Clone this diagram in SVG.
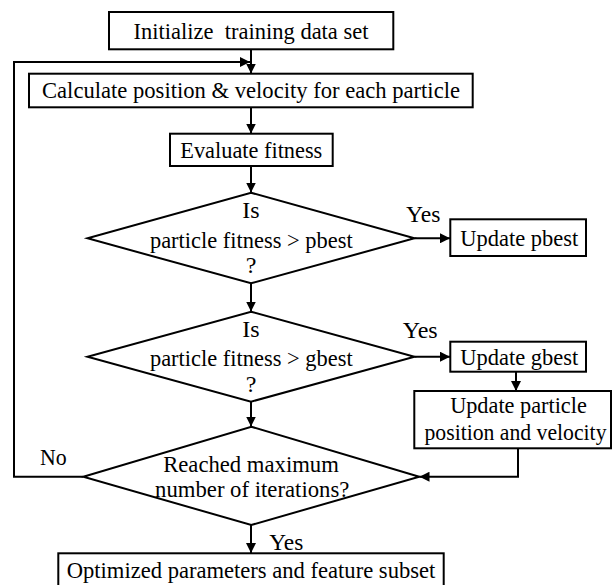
<svg xmlns="http://www.w3.org/2000/svg" width="612" height="585" viewBox="0 0 612 585">
<style>
.box{fill:#fff;stroke:#000;stroke-width:2}
.dia{fill:#fff;stroke:#000;stroke-width:2;stroke-linejoin:miter}
.con{fill:none;stroke:#000;stroke-width:2}
.m{text-anchor:middle}
</style>
<defs>
<marker id="arr" viewBox="0 0 10 10" refX="10" refY="5" markerWidth="10" markerHeight="10" markerUnits="userSpaceOnUse" orient="auto">
<path d="M0,0 L10,5 L0,10 z" fill="#000"/>
</marker>
</defs>
<rect width="612" height="585" fill="#fff"/>
<g id="connectors">
<line class="con" x1="251" y1="49.3" x2="251" y2="73.5" marker-end="url(#arr)"/>
<path class="con" d="M83.3,476.7 H14 V62 H250" marker-end="url(#arr)"/>
<line class="con" x1="251" y1="107.3" x2="251" y2="133.5" marker-end="url(#arr)"/>
<line class="con" x1="251" y1="166" x2="251" y2="192.5" marker-end="url(#arr)"/>
<line class="con" x1="414.5" y1="238.3" x2="450" y2="238.3" marker-end="url(#arr)"/>
<line class="con" x1="251" y1="283.3" x2="251" y2="311.5" marker-end="url(#arr)"/>
<line class="con" x1="414.5" y1="356.7" x2="450" y2="356.7" marker-end="url(#arr)"/>
<line class="con" x1="251" y1="401.7" x2="251" y2="426.5" marker-end="url(#arr)"/>
<line class="con" x1="516" y1="371.7" x2="516" y2="391" marker-end="url(#arr)"/>
<path class="con" d="M518,448.3 V476.7 H419.5" marker-end="url(#arr)"/>
<line class="con" x1="251" y1="525" x2="251" y2="553" marker-end="url(#arr)"/>
</g>
<g font-family="'Liberation Serif', 'DejaVu Serif', 'Times New Roman', serif" font-size="24" fill="#000">
<g id="n-init">
<rect class="box" x="109" y="12" width="284.3" height="37.3"/>
<text class="m" x="251" y="38.7" textLength="235" lengthAdjust="spacingAndGlyphs" xml:space="preserve">Initialize  training data set</text>
</g>
<g id="n-calc">
<rect class="box" x="29" y="73.7" width="443.7" height="33.6"/>
<text class="m" x="251" y="98.3" textLength="418" lengthAdjust="spacingAndGlyphs">Calculate position &amp; velocity for each particle</text>
</g>
<g id="n-eval">
<rect class="box" x="170" y="133.7" width="162.7" height="32.3"/>
<text class="m" x="251.3" y="157.5" textLength="142" lengthAdjust="spacingAndGlyphs">Evaluate fitness</text>
</g>
<g id="n-dec1">
<polygon class="dia" points="251,192.7 414.5,238.3 251,283.3 87.5,238.3"/>
<text class="m" x="251" y="218.3">Is</text>
<text class="m" x="251.3" y="247.5" textLength="202.7" lengthAdjust="spacingAndGlyphs">particle fitness &gt; pbest</text>
<text class="m" x="251" y="273.3">?</text>
</g>
<g id="l-yes1"><text x="406" y="221.7" textLength="34.3" lengthAdjust="spacingAndGlyphs">Yes</text></g>
<g id="n-pbest">
<rect class="box" x="450.3" y="219.3" width="135.7" height="36.7"/>
<text class="m" x="519.3" y="245.5" textLength="118" lengthAdjust="spacingAndGlyphs">Update pbest</text>
</g>
<g id="n-dec2">
<polygon class="dia" points="251,311.7 414.5,356.7 251,401.7 87.5,356.7"/>
<text class="m" x="251" y="336.7">Is</text>
<text class="m" x="251.3" y="365.5" textLength="202.7" lengthAdjust="spacingAndGlyphs">particle fitness &gt; gbest</text>
<text class="m" x="251" y="391.7">?</text>
</g>
<g id="l-yes2"><text x="402.7" y="338.3" textLength="35" lengthAdjust="spacingAndGlyphs">Yes</text></g>
<g id="n-gbest">
<rect class="box" x="450.3" y="341.7" width="135.7" height="30"/>
<text class="m" x="519.3" y="365" textLength="118" lengthAdjust="spacingAndGlyphs">Update gbest</text>
</g>
<g id="n-upd">
<rect class="box" x="414.3" y="391" width="196.7" height="57.3"/>
<text class="m" x="518.5" y="413.3" textLength="136.7" lengthAdjust="spacingAndGlyphs">Update particle</text>
<text class="m" x="515.5" y="440" textLength="182" lengthAdjust="spacingAndGlyphs">position and velocity</text>
</g>
<g id="n-dec3">
<polygon class="dia" points="251.3,426.7 419.3,476.7 251.3,525 83.3,476.7"/>
<text class="m" x="251" y="471.7" textLength="175.6" lengthAdjust="spacingAndGlyphs">Reached maximum</text>
<text class="m" x="252.2" y="497.3" textLength="194.3" lengthAdjust="spacingAndGlyphs">number of iterations?</text>
</g>
<g id="l-no"><text x="40" y="465" textLength="26.7" lengthAdjust="spacingAndGlyphs">No</text></g>
<g id="l-yes3"><text x="269.3" y="549.5" textLength="34" lengthAdjust="spacingAndGlyphs">Yes</text></g>
<g id="n-final">
<rect class="box" x="58.3" y="553.3" width="385.4" height="36"/>
<text class="m" x="251" y="578" textLength="368.6" lengthAdjust="spacingAndGlyphs">Optimized parameters and feature subset</text>
</g>
</g>
</svg>
